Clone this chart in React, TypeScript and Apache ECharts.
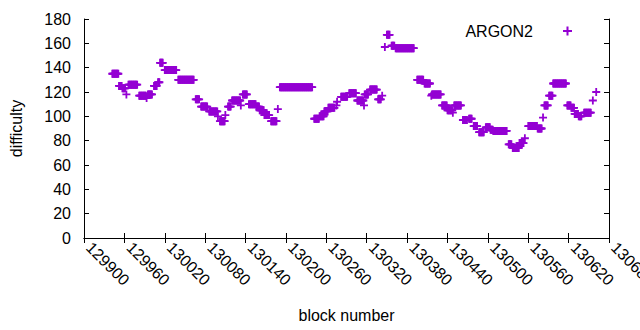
import React, { useEffect, useRef } from "react";
import * as echarts from "echarts";

// Runs of consecutive blocks that share one difficulty value
const runStart = [
  129942, 129952, 129957, 129963, 129966, 129982, 129993, 129995, 130004, 130010,
  130013, 130020, 130040, 130066, 130074, 130086, 130099, 130102, 130110, 130114,
  130120, 130133, 130136, 130145, 130156, 130161, 130168, 130178, 130188, 130191,
  130242, 130250, 130257, 130263, 130275, 130276, 130282, 130294, 130306, 130316,
  130317, 130325, 130337, 130343, 130347, 130350, 130357, 130363, 130395, 130406,
  130416, 130417, 130432, 130440, 130448, 130450, 130463, 130472, 130479, 130487,
  130497, 130504, 130508, 130531, 130537, 130547, 130555, 130560, 130574, 130582,
  130584, 130591, 130597, 130618, 130624, 130629, 130635, 130643, 130656, 130661,
];
const runEnd = [
  129951, 129956, 129961, 129963, 129979, 129992, 129993, 130001, 130008, 130012,
  130017, 130037, 130063, 130071, 130083, 130098, 130099, 130109, 130110, 130118,
  130132, 130133, 130142, 130155, 130160, 130167, 130175, 130186, 130188, 130239,
  130249, 130256, 130262, 130272, 130275, 130276, 130291, 130304, 130315, 130316,
  130322, 130335, 130341, 130343, 130347, 130354, 130361, 130390, 130404, 130414,
  130416, 130430, 130439, 130447, 130448, 130460, 130469, 130476, 130484, 130494,
  130503, 130507, 130528, 130535, 130546, 130553, 130555, 130573, 130580, 130582,
  130589, 130596, 130616, 130623, 130628, 130634, 130639, 130653, 130656, 130661,
];
const runValue = [
  135, 125, 123, 118, 126, 117, 115, 118, 125, 128,
  144, 138, 130, 114, 108, 104, 100, 96, 101, 108,
  113, 109, 118, 110, 108, 105, 101, 96, 106, 124,
  98, 100, 104, 107, 109, 112, 116, 119, 113, 109,
  118, 122, 114, 117, 157, 167, 158, 156, 130, 127,
  117, 118, 109, 105, 103, 109, 97, 98, 92, 87,
  91, 89, 88, 77, 74, 78, 82, 92, 90, 99,
  109, 117, 127, 109, 107, 102, 100, 103, 113, 120,
];

const xTickMin = 129900;
const xTickMax = 130680;
const xTickStep = 60;
const yTickMin = 0;
const yTickMax = 180;
const yTickStep = 20;

const seriesName = "ARGON2";
const xTitle = "block number";
const yTitle = "difficulty";

const COLOR = "#9400D3";
const FONT = "'Liberation Sans', Arial, sans-serif";
const PLUS = "path://M0,3.1H3.1V0H4.9V3.1H8V4.9H4.9V8H3.1V4.9H0Z";

function buildPoints(): [number, number][] {
  const pts: [number, number][] = [];
  for (let i = 0; i < runStart.length; i++) {
    for (let b = runStart[i]; b <= runEnd[i]; b++) {
      pts.push([b, runValue[i]]);
    }
  }
  return pts;
}

export default function App() {
  const ref = useRef<HTMLDivElement>(null);
  useEffect(() => {
    if (!ref.current) return;
    const chart = echarts.init(ref.current, undefined, { renderer: "svg" });
    const axisLine = { show: true, lineStyle: { color: "#000", width: 1 } };
    const tick = { show: true, inside: true, length: 5, lineStyle: { color: "#000", width: 1 } };
    chart.setOption({
      animation: false,
      backgroundColor: "#fff",
      textStyle: { fontFamily: FONT },
      grid: {
        left: 84,
        right: 31,
        top: 19,
        bottom: 92,
        containLabel: false,
        outerBoundsMode: "none",
      },
      legend: {
        data: [{ name: seriesName, icon: PLUS }],
        align: "right",
        right: 63,
        top: 18,
        itemWidth: 9,
        itemHeight: 9,
        textStyle: {
          fontSize: 16,
          color: "#000",
          fontFamily: FONT,
          padding: [0, 25, 0, 0],
        },
      },
      xAxis: [
        {
          type: "value",
          min: xTickMin,
          max: xTickMax,
          interval: xTickStep,
          position: "bottom",
          axisLine,
          axisTick: tick,
          splitLine: { show: false },
          axisLabel: {
            rotate: -45,
            margin: 2,
            padding: [0, 0, 0, 7],
            fontSize: 16,
            color: "#000",
            fontFamily: FONT,
            showMaxLabel: true,
            showMinLabel: true,
            hideOverlap: false,
            formatter: (v: number) => String(v),
          },
          name: xTitle,
          nameLocation: "middle",
          nameGap: 69,
          nameTextStyle: { fontSize: 16, color: "#000", fontFamily: FONT },
        },
        {
          type: "value",
          min: xTickMin,
          max: xTickMax,
          interval: xTickStep,
          position: "top",
          axisLine,
          axisTick: tick,
          splitLine: { show: false },
          axisLabel: { show: false },
        },
      ],
      yAxis: [
        {
          type: "value",
          min: yTickMin,
          max: yTickMax,
          interval: yTickStep,
          position: "left",
          axisLine,
          axisTick: tick,
          splitLine: { show: false },
          axisLabel: { margin: 13, fontSize: 16, color: "#000", fontFamily: FONT },
          name: yTitle,
          nameLocation: "middle",
          nameGap: 60,
          nameTextStyle: { fontSize: 16, color: "#000", fontFamily: FONT },
        },
        {
          type: "value",
          min: yTickMin,
          max: yTickMax,
          interval: yTickStep,
          position: "right",
          axisLine,
          axisTick: tick,
          splitLine: { show: false },
          axisLabel: { show: false },
        },
      ],
      series: [
        {
          name: seriesName,
          type: "scatter",
          data: buildPoints(),
          symbol: PLUS,
          symbolSize: 8,
          symbolKeepAspect: true,
          itemStyle: { color: COLOR, opacity: 1 },
          emphasis: { disabled: true },
        },
      ],
    });
    return () => chart.dispose();
  }, []);
  return (
    <div
      ref={ref}
      style={{ position: "fixed", left: 0, top: 0, width: 640, height: 330 }}
    />
  );
}
